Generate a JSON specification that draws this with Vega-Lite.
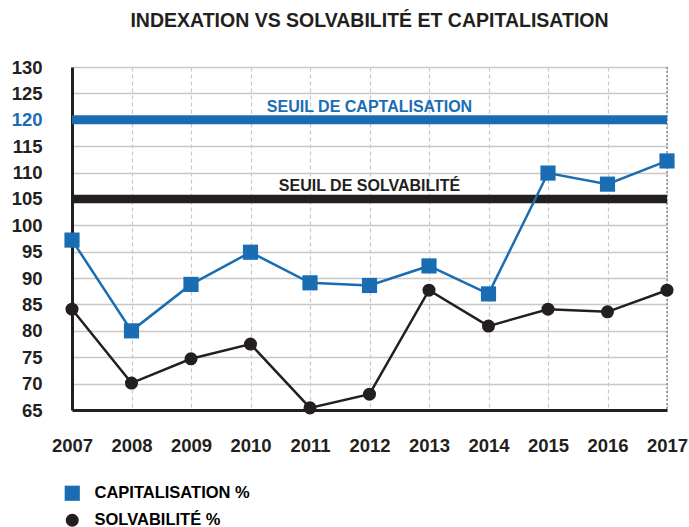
{
  "$schema": "https://vega.github.io/schema/vega-lite/v6.json",
  "autosize": "none",
  "width": 595,
  "height": 343,
  "padding": {"left": 72, "top": 67, "right": 22, "bottom": 117},
  "background": "white",
  "title": {
    "text": "INDEXATION VS SOLVABILITÉ ET CAPITALISATION",
    "font": "Liberation Sans",
    "fontSize": 19.5,
    "fontWeight": "bold",
    "color": "#231f20",
    "anchor": "middle",
    "offset": 27
  },
  "config": {
    "view": {"stroke": null},
    "font": "Liberation Sans",
    "legend": {
      "orient": "none",
      "legendX": -8,
      "legendY": 418,
      "labelFont": "Liberation Sans",
      "labelFontSize": 16.5,
      "labelFontWeight": "bold",
      "labelOffset": 14,
      "rowPadding": 10,
      "symbolStrokeWidth": 0,
      "title": null
    }
  },
  "data": {
    "values": [
      {"year": 2007, "series": "CAPITALISATION %", "value": 97.2},
      {"year": 2008, "series": "CAPITALISATION %", "value": 80.0},
      {"year": 2009, "series": "CAPITALISATION %", "value": 88.8},
      {"year": 2010, "series": "CAPITALISATION %", "value": 94.9},
      {"year": 2011, "series": "CAPITALISATION %", "value": 89.1},
      {"year": 2012, "series": "CAPITALISATION %", "value": 88.6},
      {"year": 2013, "series": "CAPITALISATION %", "value": 92.3},
      {"year": 2014, "series": "CAPITALISATION %", "value": 87.0},
      {"year": 2015, "series": "CAPITALISATION %", "value": 109.9},
      {"year": 2016, "series": "CAPITALISATION %", "value": 107.8},
      {"year": 2017, "series": "CAPITALISATION %", "value": 112.2},
      {"year": 2007, "series": "SOLVABILITÉ %", "value": 84.1},
      {"year": 2008, "series": "SOLVABILITÉ %", "value": 70.1},
      {"year": 2009, "series": "SOLVABILITÉ %", "value": 74.7},
      {"year": 2010, "series": "SOLVABILITÉ %", "value": 77.5},
      {"year": 2011, "series": "SOLVABILITÉ %", "value": 65.4},
      {"year": 2012, "series": "SOLVABILITÉ %", "value": 68.0},
      {"year": 2013, "series": "SOLVABILITÉ %", "value": 87.7},
      {"year": 2014, "series": "SOLVABILITÉ %", "value": 80.9},
      {"year": 2015, "series": "SOLVABILITÉ %", "value": 84.1},
      {"year": 2016, "series": "SOLVABILITÉ %", "value": 83.6},
      {"year": 2017, "series": "SOLVABILITÉ %", "value": 87.7}
    ]
  },
  "encoding": {
    "x": {
      "field": "year",
      "type": "quantitative",
      "scale": {"domain": [2007, 2017], "nice": false, "zero": false},
      "axis": {
        "title": null,
        "values": [2007, 2008, 2009, 2010, 2011, 2012, 2013, 2014, 2015, 2016, 2017],
        "format": "d",
        "labelFont": "Liberation Sans",
        "labelFontSize": 18.5,
        "labelFontWeight": "bold",
        "labelColor": "#231f20",
        "labelPadding": 26,
        "ticks": false,
        "domainColor": "#231f20",
        "domainWidth": 3,
        "grid": true,
        "gridColor": "#c8c8c8",
        "gridDash": [4, 3],
        "gridWidth": 1.2,
        "labelFlush": false
      }
    },
    "y": {
      "field": "value",
      "type": "quantitative",
      "scale": {"domain": [65, 130], "nice": false, "zero": false},
      "axis": {
        "title": null,
        "values": [65, 70, 75, 80, 85, 90, 95, 100, 105, 110, 115, 120, 125, 130],
        "labelFont": "Liberation Sans",
        "labelFontSize": 18.5,
        "labelFontWeight": "bold",
        "labelColor": {"expr": "datum.value == 120 ? '#1a6db3' : '#231f20'"},
        "labelPadding": 30,
        "ticks": false,
        "domainColor": "#231f20",
        "domainWidth": 3,
        "grid": true,
        "gridColor": "#c8c8c8",
        "gridWidth": 1.5
      }
    }
  },
  "layer": [
    {
      "data": {"values": [{"edge": 2017}]},
      "mark": {"type": "rule", "color": "#8a8a8a", "strokeDash": [2, 2], "strokeWidth": 1.5},
      "encoding": {"x": {"field": "edge", "type": "quantitative"}, "y": null}
    },
    {
      "data": {"values": [{"level": 120}]},
      "mark": {"type": "rule", "color": "#1a6db3", "strokeWidth": 9},
      "encoding": {"x": null, "y": {"field": "level", "type": "quantitative"}}
    },
    {
      "data": {"values": [{"level": 105}]},
      "mark": {"type": "rule", "color": "#231f20", "strokeWidth": 8.5},
      "encoding": {"x": null, "y": {"field": "level", "type": "quantitative"}}
    },
    {
      "transform": [{"filter": "datum.year == 2012 && datum.series == 'CAPITALISATION %'"}],
      "mark": {"type": "text", "color": "#1a6db3", "font": "Liberation Sans", "fontSize": 16, "fontWeight": "bold", "align": "center", "baseline": "middle"},
      "encoding": {
        "y": {"datum": 122.4},
        "text": {"value": "SEUIL DE CAPTALISATION"}
      }
    },
    {
      "transform": [{"filter": "datum.year == 2012 && datum.series == 'SOLVABILITÉ %'"}],
      "mark": {"type": "text", "color": "#231f20", "font": "Liberation Sans", "fontSize": 16, "fontWeight": "bold", "align": "center", "baseline": "middle"},
      "encoding": {
        "y": {"datum": 107.5},
        "text": {"value": "SEUIL DE SOLVABILITÉ"}
      }
    },
    {
      "mark": {"type": "line", "strokeWidth": 2.5},
      "encoding": {
        "color": {"field": "series", "type": "nominal", "scale": {"domain": ["CAPITALISATION %", "SOLVABILITÉ %"], "range": ["#1a6db3", "#231f20"]}}
      }
    },
    {
      "mark": {"type": "point", "filled": true, "opacity": 1},
      "encoding": {
        "color": {
          "field": "series",
          "type": "nominal",
          "scale": {"domain": ["CAPITALISATION %", "SOLVABILITÉ %"], "range": ["#1a6db3", "#231f20"]},
          "legend": {
            "encode": {
              "labels": {"update": {"fill": {"signal": "datum.label == 'CAPITALISATION %' ? '#1a6db3' : '#231f20'"}}}
            }
          }
        },
        "shape": {
          "field": "series",
          "type": "nominal",
          "scale": {"domain": ["CAPITALISATION %", "SOLVABILITÉ %"], "range": ["square", "circle"]}
        },
        "size": {
          "field": "series",
          "type": "nominal",
          "scale": {"domain": ["CAPITALISATION %", "SOLVABILITÉ %"], "range": [230, 170]}
        }
      }
    }
  ]
}
